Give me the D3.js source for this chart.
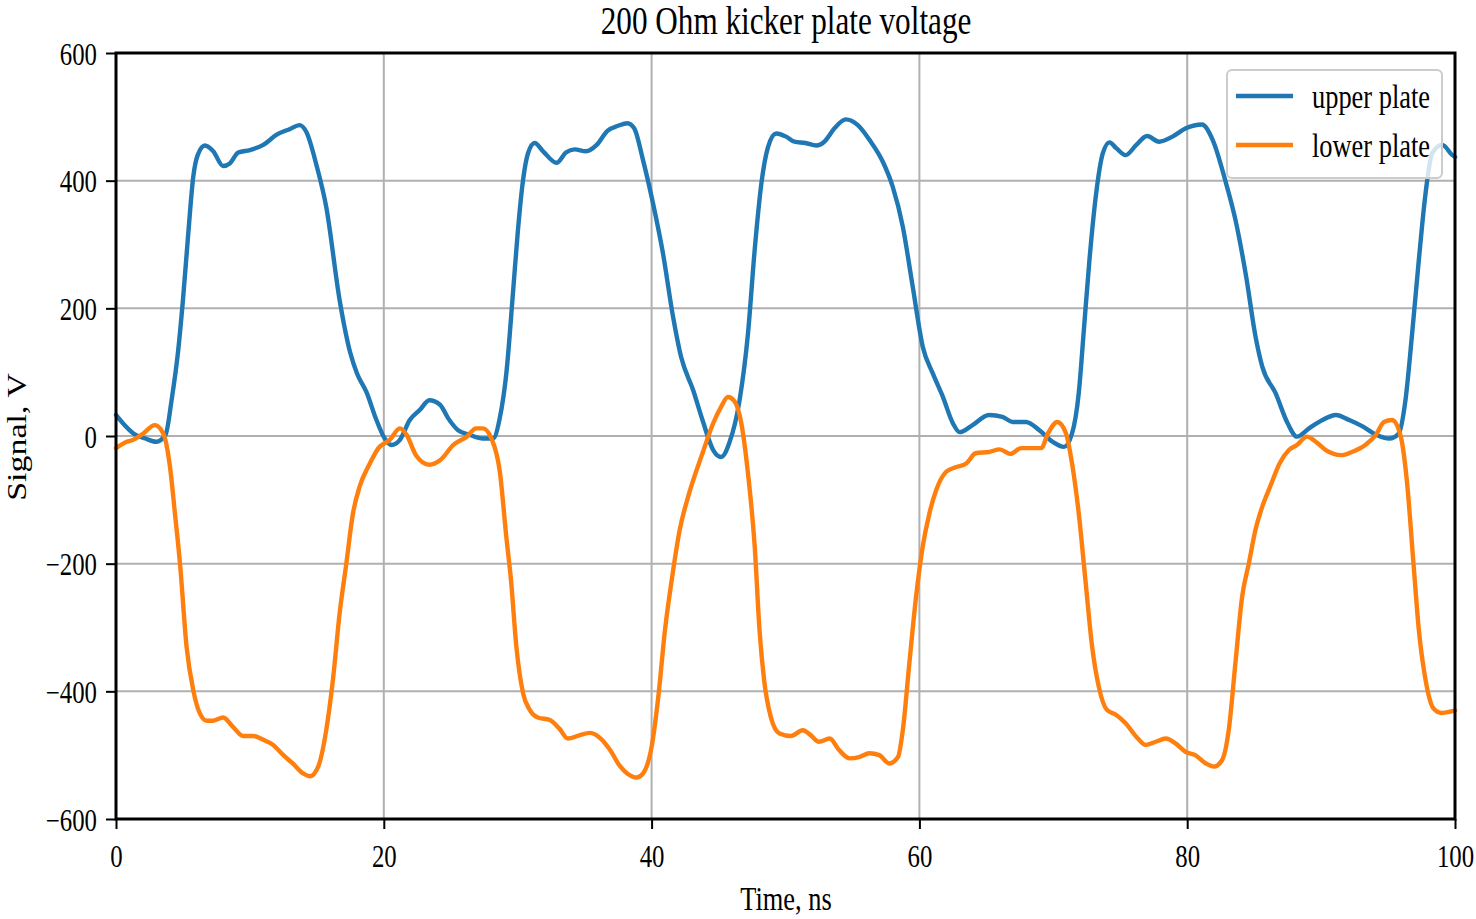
<!DOCTYPE html>
<html>
<head>
<meta charset="utf-8">
<script src="https://cdn.jsdelivr.net/npm/d3@7"></script>
<style>
  body { margin: 0; background: #fff; }
  text { font-family: "Liberation Serif", "Times New Roman", serif; fill: #000; }
</style>
</head>
<body>
<svg id="chart"></svg>
<script>
// upper plate (blue)
const upperTime = [0, 0.6, 1.3, 2.2, 3.0, 3.7, 4.15, 4.65, 5.0, 5.4, 5.77, 6.1, 6.64, 7.26, 8.0, 8.5, 9.13, 10.0, 11.0, 12.0, 13.0, 13.7, 14.2, 15.0, 15.7, 16.7, 17.5, 18.0, 18.7, 19.45, 20.07, 20.57, 21.2, 21.94, 22.7, 23.4, 24.2, 24.8, 25.55, 26.4, 27.4, 28.15, 28.66, 29.16, 29.65, 30.0, 30.4, 30.77, 31.27, 31.9, 32.9, 33.6, 34.25, 35.1, 35.9, 36.7, 37.5, 38.2, 38.7, 39.35, 40.1, 40.85, 41.6, 42.2, 43.1, 43.8, 44.6, 45.2, 45.8, 46.57, 47.2, 47.7, 48.2, 48.7, 49.3, 50.05, 50.67, 51.5, 52.3, 52.9, 53.66, 54.5, 55.4, 56.27, 57.26, 58.0, 58.76, 59.5, 60.25, 61.0, 61.74, 62.5, 63.0, 63.97, 65.2, 66.2, 66.96, 67.96, 68.96, 69.95, 70.8, 71.4, 71.9, 72.3, 72.7, 73.2, 73.7, 74.2, 74.7, 75.4, 76.2, 77.0, 77.9, 78.9, 79.9, 81.1, 81.9, 82.9, 83.6, 84.4, 85.1, 85.6, 86.6, 87.5, 88.2, 89.1, 90.1, 91.1, 92.1, 93.1, 94.1, 95.1, 95.8, 96.3, 96.8, 97.3, 97.8, 98.3, 99.05, 99.8, 100]
const upperVolt = [33, 18, 4, -4, -9, 2, 56, 135, 213, 318, 406, 440, 455, 446, 423, 427, 444, 448, 456, 472, 481, 487, 477, 422, 359, 213, 130, 98, 69, 25, -4, -14, -6, 25, 41, 56, 49, 28, 9, 2, -4, -4, 28, 100, 225, 318, 401, 443, 459, 446, 428, 444, 449, 446, 456, 478, 486, 490, 482, 433, 365, 286, 187, 124, 72, 25, -22, -33, -11, 56, 161, 292, 396, 453, 474, 469, 461, 459, 455, 461, 482, 496, 487, 464, 430, 391, 328, 234, 140, 98, 62, 20, 6, 17, 33, 30, 22, 22, 9, -9, -17, 4, 67, 171, 276, 380, 443, 460, 451, 440, 456, 470, 461, 469, 482, 488, 464, 396, 339, 250, 156, 109, 67, 20, -1, 12, 25, 33, 25, 15, 2, -4, 4, 56, 161, 276, 380, 443, 456, 440, 437]

// lower plate (orange)
const lowerTime = [0, 0.8, 1.3, 2.04, 2.9, 3.53, 4.03, 4.4, 4.78, 5.27, 5.77, 6.27, 6.77, 7.26, 8.0, 8.75, 9.5, 10.25, 11.0, 11.74, 12.5, 13.2, 14.0, 14.5, 15.1, 15.7, 16.2, 16.7, 17.2, 17.7, 18.2, 18.96, 19.6, 20.45, 21.2, 21.7, 22.4, 23.4, 24.2, 25.2, 26.2, 26.9, 27.4, 28.04, 28.66, 29.16, 29.5, 29.9, 30.4, 30.9, 31.5, 32.4, 33.1, 33.75, 34.6, 35.4, 36.2, 36.9, 37.6, 38.2, 38.9, 39.35, 40.0, 40.5, 41.0, 41.5, 42.1, 42.8, 43.8, 44.6, 45.2, 45.7, 46.2, 46.7, 47.2, 47.7, 48.06, 48.4, 48.9, 49.55, 50.4, 51.3, 51.9, 52.5, 53.3, 54.0, 54.8, 55.5, 56.27, 57.0, 57.76, 58.4, 58.76, 59.25, 59.75, 60.25, 60.75, 61.25, 62.0, 62.7, 63.5, 64.2, 65.2, 66.0, 66.8, 67.6, 68.3, 69.1, 69.6, 70.3, 70.95, 71.4, 71.9, 72.4, 72.9, 73.4, 74.0, 74.7, 75.4, 76.2, 76.9, 77.65, 78.4, 79.15, 79.9, 80.6, 81.4, 82.0, 82.6, 83.1, 83.6, 84.1, 84.6, 85.1, 85.6, 86.2, 86.9, 87.6, 88.2, 88.95, 89.6, 90.35, 91.5, 92.3, 93.3, 94.1, 94.7, 95.3, 95.95, 96.4, 96.9, 97.3, 97.8, 98.4, 99.0, 99.8, 100]
const lowerVolt = [-19, -9, -6, 4, 17, 4, -48, -121, -200, -330, -398, -435, -446, -446, -441, -456, -470, -470, -476, -484, -500, -513, -529, -533, -518, -461, -382, -278, -200, -121, -79, -43, -19, -6, 12, 2, -30, -45, -38, -14, -1, 12, 12, -4, -55, -160, -226, -330, -403, -429, -441, -445, -458, -474, -469, -465, -474, -492, -516, -529, -535, -529, -487, -409, -304, -226, -147, -90, -27, 20, 46, 61, 54, 20, -59, -173, -304, -382, -440, -466, -470, -461, -469, -479, -474, -492, -505, -503, -497, -500, -513, -503, -461, -356, -252, -173, -121, -85, -56, -49, -43, -27, -25, -21, -28, -19, -19, -19, 4, 22, 4, -43, -121, -226, -330, -393, -429, -437, -450, -471, -484, -479, -474, -482, -495, -500, -513, -518, -508, -461, -356, -252, -200, -147, -111, -79, -43, -22, -14, -1, -9, -22, -30, -25, -14, 2, 22, 25, -1, -69, -200, -304, -382, -427, -434, -431, -430]

const xTicks = [0, 20, 40, 60, 80, 100]
const yTicks = [-600, -400, -200, 0, 200, 400, 600]
const seriesNames = ["upper plate", "lower plate"]
const seriesColors = ["#1f77b4", "#ff7f0e"]

const width = 1476
const height = 919
const margin = { top: 53, right: 21, bottom: 100, left: 116 }
const sx = 0.8 // glyphs in the picture are narrow

const svg = d3.select("#chart")
  .attr("width", width)
  .attr("height", height)

const x = d3.scaleLinear().domain([0, 100]).range([margin.left, width - margin.right])
const y = d3.scaleLinear().domain([-600, 600]).range([height - margin.bottom, margin.top])

// grid
svg.append("g")
  .attr("stroke", "#b0b0b0")
  .attr("stroke-width", 2)
  .selectAll("line.vx")
  .data(xTicks)
  .join("line")
  .attr("x1", d => x(d)).attr("x2", d => x(d))
  .attr("y1", y(600)).attr("y2", y(-600))

svg.append("g")
  .attr("stroke", "#b0b0b0")
  .attr("stroke-width", 2)
  .selectAll("line.hy")
  .data(yTicks)
  .join("line")
  .attr("x1", x(0)).attr("x2", x(100))
  .attr("y1", d => y(d)).attr("y2", d => y(d))

// series
const series = [
  upperTime.map((t, i) => [t, upperVolt[i]]),
  lowerTime.map((t, i) => [t, lowerVolt[i]])
]
const line = d3.line()
  .x(d => x(d[0]))
  .y(d => y(d[1]))
  .curve(d3.curveMonotoneX)

svg.append("g")
  .selectAll("path")
  .data(series)
  .join("path")
  .attr("fill", "none")
  .attr("stroke", (d, i) => seriesColors[i])
  .attr("stroke-width", 4.4)
  .attr("stroke-linejoin", "round")
  .attr("stroke-linecap", "round")
  .attr("d", line)

// axes
const xAxis = svg.append("g")
  .attr("transform", `translate(0,${y(-600)})`)
  .call(d3.axisBottom(x).tickValues(xTicks).tickSize(10).tickPadding(0).tickFormat(d3.format("d")))
const yAxis = svg.append("g")
  .attr("transform", `translate(${x(0)},0)`)
  .call(d3.axisLeft(y).tickValues(yTicks).tickSize(10).tickPadding(0)
    .tickFormat(d => d < 0 ? "\u2212" + Math.abs(d) : d))

for (const g of [xAxis, yAxis]) {
  g.select(".domain").remove()
  g.selectAll(".tick line").attr("stroke", "#000").attr("stroke-width", 2)
  g.selectAll(".tick text").attr("font-size", 31).attr("fill", "#000")
}
xAxis.selectAll(".tick text")
  .attr("y", 0)
  .attr("dy", 0)
  .attr("transform", `translate(0,48) scale(${sx},1)`)
yAxis.selectAll(".tick text")
  .attr("x", 0)
  .attr("dy", 0)
  .attr("transform", `translate(-19,11) scale(${sx},1)`)

// frame
svg.append("rect")
  .attr("x", x(0)).attr("y", y(600))
  .attr("width", x(100) - x(0))
  .attr("height", y(-600) - y(600))
  .attr("fill", "none")
  .attr("stroke", "#000")
  .attr("stroke-width", 3)

// labels
svg.append("text")
  .attr("transform", `translate(786,34) scale(${sx},1)`)
  .attr("text-anchor", "middle")
  .attr("font-size", 39)
  .text("200 Ohm kicker plate voltage")

svg.append("text")
  .attr("transform", `translate(786,910) scale(${sx},1)`)
  .attr("text-anchor", "middle")
  .attr("font-size", 33)
  .text("Time, ns")

svg.append("text")
  .attr("transform", `translate(26,437) rotate(-90) scale(1,${sx})`)
  .attr("text-anchor", "middle")
  .attr("font-size", 34)
  .text("Signal, V")

// legend
const legend = svg.append("g")
legend.append("rect")
  .attr("x", 1227).attr("y", 70)
  .attr("width", 215).attr("height", 108)
  .attr("rx", 5)
  .attr("fill", "#fff").attr("fill-opacity", 0.8)
  .attr("stroke", "#cccccc").attr("stroke-width", 2)

const items = legend.selectAll("g.item")
  .data(seriesNames)
  .join("g")
  .attr("transform", (d, i) => `translate(1236,${96 + i * 49})`)
items.append("line")
  .attr("x1", 0).attr("x2", 57)
  .attr("stroke", (d, i) => seriesColors[i])
  .attr("stroke-width", 4.4)
items.append("text")
  .attr("transform", `translate(76,12) scale(${sx},1)`)
  .attr("font-size", 33)
  .text(d => d)
</script>
</body>
</html>
